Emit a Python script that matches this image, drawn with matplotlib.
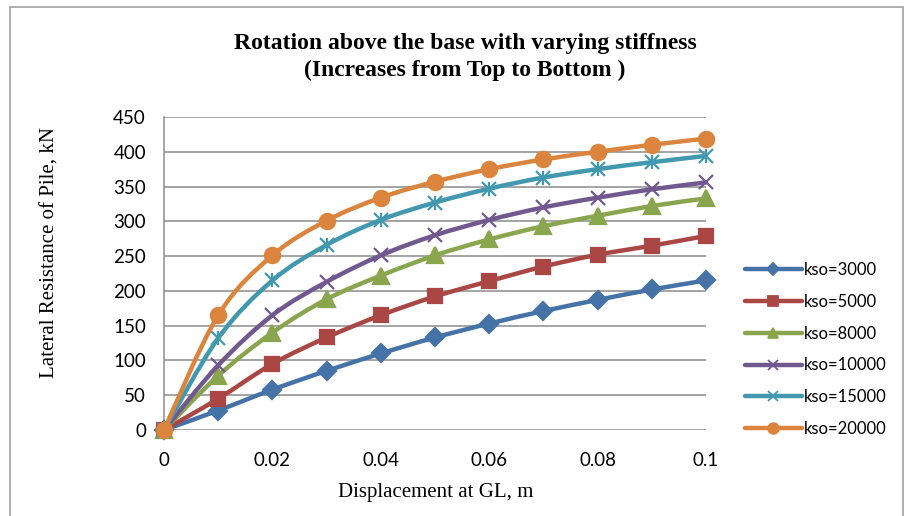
import matplotlib.pyplot as plt
import numpy as np
from matplotlib.path import Path
from matplotlib.patches import PathPatch, Rectangle
from matplotlib.lines import Line2D

# Data
disp = [0, 0.01, 0.02, 0.03, 0.04, 0.05, 0.06, 0.07, 0.08, 0.09, 0.1]
kso_3000 = [0, 28, 58, 85, 110, 133, 153, 171, 187, 202, 215]
kso_5000 = [0, 45, 95, 133, 165, 192, 214, 235, 252, 265, 279]
kso_8000 = [0, 78, 140, 188, 222, 251, 274, 293, 308, 322, 333]
kso_10000 = [0, 93, 165, 213, 251, 280, 302, 320, 334, 346, 356]
kso_15000 = [0, 132, 215, 266, 302, 327, 347, 363, 375, 385, 394]
kso_20000 = [0, 165, 251, 301, 334, 357, 375, 389, 400, 410, 419]
labels = ['kso=3000', 'kso=5000', 'kso=8000', 'kso=10000', 'kso=15000', 'kso=20000']
series = [kso_3000, kso_5000, kso_8000, kso_10000, kso_15000, kso_20000]

colors = ['#4572A7', '#AA4643', '#89A54E', '#71588F', '#4198AF', '#DB843D']
markers = ['D', 's', '^', 'x', 'x', 'o']
msizes = [9, 10, 11, 10, 10, 11]


def smooth_path(x, y):
    # Excel-style smoothed line: cubic Bezier through the points
    p = np.column_stack([x, y]).astype(float)
    verts = [p[0]]
    codes = [Path.MOVETO]
    n = len(p)
    for i in range(n - 1):
        prev = p[i - 1] if i > 0 else p[i]
        nxt = p[i + 2] if i + 2 < n else p[i + 1]
        c1 = p[i] + (p[i + 1] - prev) / 6
        c2 = p[i + 1] - (nxt - p[i]) / 6
        verts += [c1, c2, p[i + 1]]
        codes += [Path.CURVE4] * 3
    return Path(verts, codes)


fig = plt.figure(figsize=(9.09, 5.16), dpi=100)
fig.patches.append(Rectangle((10 / 909, -0.1), 893 / 909, 1 - 7 / 516 + 0.1,
                             transform=fig.transFigure, fill=False,
                             edgecolor='#a0a0a0', lw=1.2))

ax = fig.add_axes([164 / 909, 1 - 430 / 516, 542 / 909, 313 / 516])

handles = []
for i, (ys, lab) in enumerate(zip(series, labels)):
    c = colors[i]
    ax.add_patch(PathPatch(smooth_path(disp, ys), facecolor='none', edgecolor=c,
                           lw=3.2, capstyle='round', joinstyle='round',
                           zorder=3 + i * 2, clip_on=False))
    ax.plot(disp, ys, ls='none', marker=markers[i], ms=msizes[i], color=c,
            mec=c, mew=1.6, zorder=4 + i * 2, clip_on=False)
    if i == 4:
        ax.plot(disp, ys, ls='none', marker='|', ms=msizes[i], color=c,
                mew=1.6, zorder=4 + i * 2, clip_on=False)
    handles.append(Line2D([], [], color=c, lw=3.2, marker=markers[i],
                          ms=msizes[i] * 0.7, mew=1.3, solid_capstyle='round',
                          label=lab))

ax.set_xlim(0, 0.1)
ax.set_ylim(0, 450)
ax.set_xticks([0, 0.02, 0.04, 0.06, 0.08, 0.1])
ax.set_xticklabels(['0', '0.02', '0.04', '0.06', '0.08', '0.1'])
ax.set_yticks(range(0, 451, 50))
ax.yaxis.grid(True, color='#8c8c8c', lw=1.1)
ax.set_axisbelow(True)
for s in ['top', 'right', 'bottom']:
    ax.spines[s].set_visible(False)
ax.spines['left'].set_color('#8c8c8c')
ax.spines['left'].set_linewidth(1.1)
ax.tick_params(length=0, labelsize=13.5)
for t in ax.get_xticklabels() + ax.get_yticklabels():
    t.set_fontfamily('Lato')
ax.tick_params(axis='y', pad=13)
ax.tick_params(axis='x', pad=16)

# axis titles
fig.text(436 / 909, 1 - 492 / 516, 'Displacement at GL, m', ha='center', va='center',
         family='Liberation Serif', fontsize=15)
fig.text(50 / 909, 1 - 252 / 516, 'Lateral Resistance of Pile, kN', ha='center', va='center',
         rotation=90, family='Liberation Serif', fontsize=15)

fig.text(465 / 909, 1 - 57 / 516,
         'Rotation above the base with varying stiffness\n(Increases from Top to Bottom )',
         ha='center', va='center', family='Liberation Serif', fontweight='bold',
         fontsize=17, linespacing=1.3)

fig.legend(handles=handles, loc='upper left', bbox_to_anchor=(730 / 909, 1 - 247 / 516),
           frameon=False, prop={'family': 'Lato', 'size': 12},
           handlelength=3.4, handletextpad=0.15, labelspacing=0.95)

fig.savefig('out.png', dpi=100)
